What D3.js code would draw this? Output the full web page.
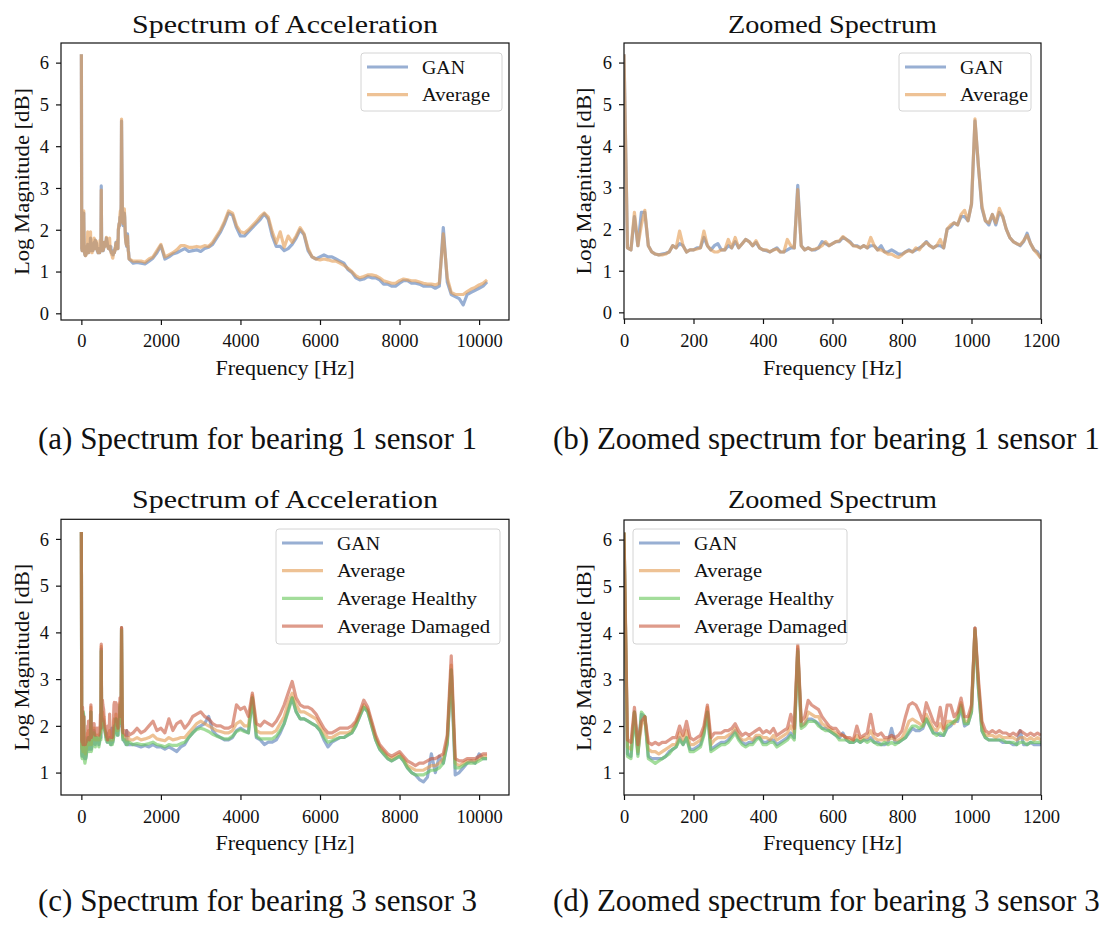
<!DOCTYPE html>
<html><head><meta charset="utf-8">
<script src="https://cdn.jsdelivr.net/npm/d3@7"></script>
<style>
body{margin:0;background:#fff}
svg{display:block}
text{font-family:"Liberation Serif","Times New Roman",serif;fill:#111}
</style>
</head><body>
<svg id="c" width="1106" height="934"></svg>
<script>
// ---------- categories / ticks ----------
const zoomFreq = d3.range(0, 1201, 10);      // Hz, zoomed spectra
const highFreq = d3.range(1300, 10201, 100); // Hz, rest of full spectra
const xTicksFull = [0, 2000, 4000, 6000, 8000, 10000];
const xTicksZoom = [0, 200, 400, 600, 800, 1000, 1200];
const yTicksB1 = [0, 1, 2, 3, 4, 5, 6];
const yTicksB3 = [1, 2, 3, 4, 5, 6];
const seriesNames = ["GAN", "Average", "Average Healthy", "Average Damaged"];
const captions = ["(a) Spectrum for bearing 1 sensor 1", "(b) Zoomed spectrum for bearing 1 sensor 1",
                  "(c) Spectrum for bearing 3 sensor 3", "(d) Zoomed spectrum for bearing 3 sensor 3"];

// ---------- bearing 1 sensor 1 : 0..1200 Hz ----------
const b1GanZoom = [6.2,1.55,1.5,2.3,1.6,2.4,2.4,1.6,1.45,1.4,
 1.38,1.4,1.42,1.45,1.6,1.55,1.65,1.6,1.45,1.5,
 1.5,1.55,1.55,1.8,1.6,1.5,1.6,1.65,1.5,1.5,
 1.6,1.55,1.7,1.55,1.65,1.75,1.7,1.6,1.68,1.55,
 1.5,1.48,1.45,1.5,1.55,1.45,1.45,1.5,1.55,1.55,
 3.05,1.6,1.5,1.55,1.5,1.5,1.55,1.7,1.65,1.6,
 1.65,1.7,1.7,1.8,1.75,1.7,1.6,1.6,1.55,1.6,
 1.55,1.6,1.6,1.5,1.6,1.45,1.45,1.5,1.45,1.4,
 1.4,1.45,1.5,1.45,1.5,1.55,1.6,1.7,1.6,1.55,
 1.6,1.6,1.55,2.0,2.05,2.15,2.1,2.3,2.3,2.2,
 2.6,4.6,3.5,2.5,2.2,2.1,2.35,2.1,2.4,2.3,
 2.0,1.8,1.7,1.65,1.6,1.7,1.9,1.65,1.5,1.45,1.3];
const b1AvgZoom = [6.2,1.55,1.5,2.4,1.6,2.1,2.45,1.6,1.45,1.4,
 1.38,1.38,1.4,1.45,1.6,1.55,1.95,1.6,1.45,1.5,
 1.5,1.52,1.55,1.95,1.6,1.5,1.45,1.45,1.5,1.5,
 1.75,1.55,1.8,1.55,1.65,1.75,1.7,1.6,1.72,1.55,
 1.5,1.5,1.45,1.5,1.52,1.45,1.45,1.75,1.6,1.55,
 2.95,1.6,1.5,1.55,1.5,1.52,1.55,1.6,1.7,1.6,
 1.65,1.7,1.72,1.82,1.75,1.68,1.6,1.58,1.55,1.6,
 1.55,1.8,1.6,1.5,1.5,1.45,1.4,1.4,1.35,1.32,
 1.38,1.45,1.48,1.45,1.55,1.5,1.62,1.68,1.6,1.55,
 1.6,1.75,1.55,2.0,2.1,2.15,2.1,2.35,2.45,2.2,
 2.6,4.65,3.5,2.55,2.2,2.15,2.35,2.15,2.5,2.3,
 2.0,1.8,1.7,1.65,1.62,1.72,1.85,1.65,1.5,1.4,1.3];
// ---------- bearing 1 sensor 1 : 1300..10200 Hz ----------
const b1GanHigh = [1.2,1.22,1.2,1.18,1.25,1.32,1.45,1.62,1.3,1.35,
 1.42,1.45,1.5,1.55,1.48,1.5,1.52,1.48,1.55,1.58,
 1.65,1.8,1.95,2.15,2.4,2.35,2.05,1.85,1.85,1.95,
 2.05,2.15,2.25,2.38,2.25,1.85,1.6,1.6,1.5,1.55,
 1.65,1.8,2.0,1.88,1.5,1.35,1.3,1.35,1.4,1.35,
 1.35,1.3,1.25,1.2,1.05,0.98,0.85,0.8,0.82,0.88,
 0.85,0.85,0.8,0.7,0.7,0.65,0.65,0.72,0.78,0.78,
 0.72,0.72,0.7,0.65,0.65,0.65,0.6,0.65,2.05,0.75,
 0.45,0.4,0.35,0.2,0.45,0.5,0.55,0.6,0.65,0.75];
const b1AvgHigh = [1.25,1.25,1.25,1.22,1.3,1.35,1.5,1.65,1.35,1.4,
 1.45,1.52,1.62,1.62,1.58,1.58,1.6,1.58,1.62,1.6,
 1.7,1.85,2.0,2.2,2.45,2.4,2.1,1.95,1.92,2.0,
 2.1,2.2,2.32,2.4,2.3,1.95,1.68,1.95,1.58,1.85,
 1.7,1.85,2.05,1.9,1.55,1.35,1.3,1.28,1.3,1.28,
 1.25,1.25,1.2,1.15,1.08,1.0,0.9,0.85,0.88,0.92,
 0.92,0.9,0.85,0.78,0.75,0.72,0.72,0.78,0.82,0.8,
 0.78,0.78,0.75,0.72,0.7,0.7,0.68,0.72,1.9,0.85,
 0.5,0.45,0.45,0.45,0.52,0.58,0.62,0.68,0.72,0.8];

// ---------- bearing 3 sensor 3 : 0..1200 Hz ----------
const b3GanZoom = [6.15,1.4,1.35,2.3,1.4,2.25,2.2,1.35,1.3,1.3,
 1.3,1.3,1.35,1.45,1.5,1.55,1.75,1.6,1.75,1.5,
 1.5,1.55,1.6,1.85,2.3,1.5,1.55,1.6,1.65,1.65,
 1.7,1.8,1.9,1.75,1.65,1.6,1.65,1.65,1.75,1.75,
 1.65,1.65,1.7,1.7,1.6,1.65,1.7,1.75,1.85,1.75,
 3.65,2.0,2.05,2.15,2.15,2.1,2.05,1.95,1.95,1.9,
 1.85,1.8,1.75,1.85,1.7,1.65,1.65,1.7,1.65,1.7,
 1.7,1.75,1.65,1.65,1.6,1.6,1.65,1.95,1.65,1.65,
 1.7,1.75,1.85,1.95,1.9,1.9,1.95,2.15,2.0,1.85,
 1.85,1.8,1.8,1.95,2.0,2.1,2.1,2.4,2.0,2.05,
 2.3,4.1,2.8,1.9,1.75,1.7,1.7,1.7,1.7,1.65,
 1.65,1.65,1.6,1.6,1.9,1.6,1.6,1.65,1.6,1.6,1.6];
const b3AvgZoom = [6.15,1.55,1.5,2.3,1.45,2.0,2.2,1.5,1.45,1.45,
 1.4,1.45,1.5,1.55,1.6,1.6,1.85,1.7,1.9,1.6,
 1.6,1.65,1.7,1.9,2.4,1.6,1.7,1.75,1.75,1.75,
 1.8,1.85,1.95,1.8,1.7,1.7,1.75,1.7,1.8,1.8,
 1.75,1.75,1.7,1.8,1.7,1.75,1.8,1.85,2.0,1.85,
 3.7,2.0,2.05,2.3,2.25,2.2,2.2,2.05,2.0,1.95,
 1.9,1.85,1.8,1.8,1.75,1.7,1.7,1.8,1.7,1.75,
 1.75,1.9,1.75,1.7,1.7,1.7,1.7,1.75,1.7,1.7,
 1.75,1.9,2.1,2.15,2.1,2.05,2.0,2.25,2.1,1.95,
 1.9,2.05,1.9,2.1,2.1,2.05,2.2,2.5,2.1,2.1,
 2.35,4.1,2.9,2.0,1.8,1.8,1.8,1.75,1.8,1.75,
 1.75,1.75,1.75,1.7,1.75,1.75,1.7,1.75,1.7,1.75,1.7];
const b3HealthyZoom = [6.15,1.35,1.3,2.3,1.35,2.3,2.2,1.3,1.25,1.2,
 1.25,1.3,1.35,1.4,1.5,1.55,1.7,1.6,1.75,1.45,
 1.45,1.5,1.55,1.8,2.3,1.45,1.5,1.55,1.6,1.6,
 1.65,1.75,1.85,1.7,1.6,1.55,1.6,1.6,1.7,1.75,
 1.6,1.6,1.65,1.65,1.55,1.6,1.65,1.7,1.8,1.7,
 3.6,1.95,2.0,2.1,2.1,2.1,2.0,1.95,1.9,1.9,
 1.85,1.8,1.7,1.7,1.7,1.65,1.65,1.7,1.65,1.7,
 1.65,1.7,1.65,1.6,1.6,1.65,1.6,1.65,1.6,1.65,
 1.7,1.75,1.9,2.0,2.0,1.95,2.0,2.15,2.0,1.85,
 1.8,1.85,1.8,2.0,2.05,2.1,2.15,2.45,2.05,2.05,
 2.3,4.05,2.8,1.9,1.75,1.7,1.7,1.7,1.7,1.7,
 1.65,1.65,1.65,1.6,1.65,1.65,1.6,1.65,1.65,1.65,1.65];
const b3DamagedZoom = [6.15,1.7,1.65,2.4,1.6,2.1,2.2,1.65,1.6,1.65,
 1.6,1.65,1.65,1.7,1.75,1.75,2.0,1.8,2.1,1.75,
 1.7,1.75,1.8,2.0,2.45,1.75,1.85,1.85,1.85,1.9,
 1.9,1.95,2.05,1.9,1.8,1.85,1.8,1.85,1.9,1.95,
 1.85,1.9,1.85,1.95,1.8,1.85,1.9,1.95,2.25,1.95,
 3.75,2.1,2.2,2.55,2.45,2.4,2.35,2.2,2.1,2.0,
 1.95,1.95,1.85,1.8,1.75,1.75,1.7,2.0,1.75,1.8,
 1.85,2.25,1.85,1.8,1.85,1.75,1.75,1.8,1.75,1.8,
 1.9,2.2,2.45,2.5,2.45,2.3,2.1,2.5,2.3,2.1,
 2.0,2.4,1.95,2.45,2.45,2.2,2.3,2.6,2.2,2.2,
 2.45,4.1,3.0,2.1,1.9,1.85,1.9,1.85,1.9,1.85,
 1.85,1.8,1.85,1.8,1.9,1.85,1.8,1.85,1.8,1.85,1.8];
// ---------- bearing 3 sensor 3 : 1300..10200 Hz ----------
const b3GanHigh = [1.6,1.58,1.55,1.58,1.55,1.6,1.55,1.55,1.5,1.55,
 1.5,1.45,1.55,1.6,1.75,1.85,1.95,2.0,2.05,2.2,
 1.9,1.8,1.75,1.7,1.7,1.75,1.9,1.95,1.9,1.85,
 2.6,1.75,1.7,1.6,1.65,1.65,1.7,1.85,2.05,2.35,
 2.6,2.3,2.15,2.15,2.1,2.05,2.0,1.9,1.7,1.55,
 1.65,1.7,1.75,1.75,1.8,1.85,2.0,2.2,2.4,2.3,
 2.0,1.7,1.5,1.4,1.3,1.25,1.3,1.35,1.25,1.1,
 1.0,0.95,0.85,0.8,0.9,1.4,1.0,1.35,1.2,1.6,
 3.2,0.95,1.0,1.1,1.2,1.25,1.2,1.4,1.3,1.3];
const b3AvgHigh = [1.7,1.75,1.7,1.72,1.75,1.8,1.72,1.7,1.68,1.75,
 1.7,1.72,1.75,1.75,1.85,1.95,2.05,2.1,2.05,2.0,
 1.95,1.9,1.88,1.85,1.85,1.9,2.05,2.1,2.0,2.0,
 2.65,1.9,1.85,1.85,1.85,1.85,1.9,2.05,2.2,2.5,
 2.7,2.45,2.3,2.3,2.25,2.2,2.15,2.0,1.85,1.75,
 1.75,1.8,1.85,1.85,1.85,1.9,2.05,2.25,2.45,2.35,
 2.05,1.75,1.55,1.45,1.35,1.3,1.35,1.4,1.3,1.15,
 1.1,1.05,1.05,1.05,1.1,1.15,1.15,1.2,1.3,1.7,
 3.3,1.2,1.15,1.2,1.25,1.25,1.25,1.3,1.35,1.35];
const b3HealthyHigh = [1.6,1.62,1.6,1.6,1.62,1.65,1.6,1.58,1.55,1.6,
 1.58,1.58,1.62,1.65,1.75,1.85,1.92,1.95,1.92,1.88,
 1.82,1.78,1.75,1.72,1.72,1.78,1.88,1.92,1.88,1.85,
 2.6,1.78,1.72,1.72,1.72,1.72,1.78,1.9,2.05,2.3,
 2.6,2.3,2.15,2.15,2.1,2.05,2.0,1.9,1.75,1.65,
 1.68,1.72,1.75,1.75,1.8,1.85,2.0,2.2,2.4,2.3,
 2.0,1.7,1.5,1.4,1.3,1.25,1.3,1.35,1.25,1.1,
 1.0,0.95,0.95,0.95,1.0,1.05,1.05,1.1,1.2,1.65,
 3.2,1.1,1.1,1.15,1.2,1.2,1.2,1.25,1.3,1.3];
const b3DamagedHigh = [1.85,1.95,1.85,1.9,2.0,2.1,1.9,1.95,1.85,2.15,
 1.9,2.05,2.1,1.95,2.05,2.2,2.25,2.3,2.2,2.15,
 2.05,2.0,2.0,1.95,1.95,2.0,2.45,2.35,2.4,2.2,
 2.7,2.05,2.0,2.1,2.05,2.0,2.1,2.25,2.45,2.7,
 2.95,2.6,2.45,2.4,2.4,2.35,2.25,2.1,1.95,1.85,
 1.85,1.9,1.95,1.95,1.95,2.0,2.1,2.3,2.55,2.4,
 2.1,1.8,1.6,1.5,1.4,1.35,1.4,1.45,1.35,1.25,
 1.2,1.15,1.2,1.2,1.25,1.3,1.3,1.35,1.4,1.8,
 3.5,1.3,1.25,1.25,1.3,1.3,1.3,1.35,1.4,1.4];

// ---------- styling ----------
const colors = ["#5479B6", "#E39A4F", "#66C659", "#C8583E"];
const svg = d3.select("#c");
const fullFreq = zoomFreq.concat(highFreq);

function fit(sel, w) {
  sel.attr("textLength", w).attr("lengthAdjust", "spacingAndGlyphs");
}

function drawPanel(p) {
  const g = svg.append("g");
  const x = d3.scaleLinear().domain(p.xDomain).range([p.left, p.right]);
  const y = d3.scaleLinear().domain(p.yDomain).range([p.bottom, p.top]);
  const clipId = "clip" + p.id;
  svg.append("clipPath").attr("id", clipId).append("rect")
    .attr("x", p.left).attr("y", p.top).attr("width", p.right - p.left).attr("height", p.bottom - p.top);

  const line = d3.line().x(d => x(d[0])).y(d => y(d[1]));
  const lines = g.append("g").attr("clip-path", `url(#${clipId})`);
  p.series.forEach(s => {
    lines.append("path")
      .datum(s.freq.map((f, i) => [f, s.values[i]]))
      .attr("d", line)
      .attr("fill", "none")
      .attr("stroke", colors[s.c])
      .attr("stroke-opacity", 0.6)
      .attr("stroke-width", 3.2)
      .attr("stroke-linejoin", "round");
  });

  // frame
  g.append("rect").attr("x", p.left).attr("y", p.top)
    .attr("width", p.right - p.left).attr("height", p.bottom - p.top)
    .attr("fill", "none").attr("stroke", "#111").attr("stroke-width", 1.2);

  // x axis
  const xa = g.append("g").attr("transform", `translate(0,${p.bottom})`)
    .call(d3.axisBottom(x).tickValues(p.xTicks).tickSize(5).tickFormat(d3.format("d")));
  xa.select(".domain").remove();
  xa.selectAll(".tick line").attr("stroke", "#111").attr("stroke-width", 1.2);
  xa.selectAll(".tick text").attr("y", p.xTickBase).attr("dy", null)
    .attr("font-size", 18.5).attr("fill", "#111")
    .style("font-family", '"Liberation Serif", serif');

  // y axis
  const ya = g.append("g").attr("transform", `translate(${p.left},0)`)
    .call(d3.axisLeft(y).tickValues(p.yTicks).tickSize(5).tickPadding(7).tickFormat(d3.format("d")));
  ya.select(".domain").remove();
  ya.selectAll(".tick line").attr("stroke", "#111").attr("stroke-width", 1.2);
  ya.selectAll(".tick text").attr("dy", "0.34em")
    .attr("font-size", 18.5).attr("fill", "#111")
    .style("font-family", '"Liberation Serif", serif');

  // labels
  const cx = (p.left + p.right) / 2, cy = (p.top + p.bottom) / 2;
  g.append("text").attr("x", cx).attr("y", p.titleBase).attr("text-anchor", "middle")
    .attr("font-size", 26).text(p.title).call(fit, p.titleW);
  g.append("text").attr("x", cx).attr("y", p.bottom + p.xLabelOff).attr("text-anchor", "middle")
    .attr("font-size", 20).text("Frequency [Hz]").call(fit, 139);
  g.append("text").attr("transform", `translate(${p.yLabelX},${cy}) rotate(-90)`)
    .attr("text-anchor", "middle").attr("font-size", 20).text("Log Magnitude [dB]").call(fit, 187);

  // legend
  const L = p.legend;
  g.append("rect").attr("x", L.x).attr("y", L.y).attr("width", L.w).attr("height", L.h)
    .attr("rx", 3).attr("fill", "#fff").attr("fill-opacity", 0.8)
    .attr("stroke", "#d4d4d4").attr("stroke-width", 1);
  p.series.forEach((s, i) => {
    const ry = L.y + 14 + i * 27.7;
    g.append("line").attr("x1", L.x + 6).attr("x2", L.x + 47).attr("y1", ry).attr("y2", ry)
      .attr("stroke", colors[s.c]).attr("stroke-opacity", 0.6).attr("stroke-width", 3.2);
    g.append("text").attr("x", L.x + 61).attr("y", ry + 6.5).attr("font-size", 18)
      .text(seriesNames[s.c]).call(fit, L.tw[i]);
  });

  // caption
  svg.append("text").attr("x", p.capX).attr("y", p.capBase).attr("font-size", 31)
    .style("font-family", '"Liberation Serif","Times New Roman",serif').text(p.caption);
}

const b1Series = [
  { c: 0, freq: fullFreq, values: b1GanZoom.concat(b1GanHigh) },
  { c: 1, freq: fullFreq, values: b1AvgZoom.concat(b1AvgHigh) }
];
const b1SeriesZoom = [
  { c: 0, freq: zoomFreq, values: b1GanZoom },
  { c: 1, freq: zoomFreq, values: b1AvgZoom }
];
const b3Series = [
  { c: 0, freq: fullFreq, values: b3GanZoom.concat(b3GanHigh) },
  { c: 1, freq: fullFreq, values: b3AvgZoom.concat(b3AvgHigh) },
  { c: 2, freq: fullFreq, values: b3HealthyZoom.concat(b3HealthyHigh) },
  { c: 3, freq: fullFreq, values: b3DamagedZoom.concat(b3DamagedHigh) }
];
const b3SeriesZoom = [
  { c: 0, freq: zoomFreq, values: b3GanZoom },
  { c: 1, freq: zoomFreq, values: b3AvgZoom },
  { c: 2, freq: zoomFreq, values: b3HealthyZoom },
  { c: 3, freq: zoomFreq, values: b3DamagedZoom }
];

drawPanel({ id: "a", left: 61, right: 509, top: 43, bottom: 320,
  xDomain: [-512, 10752], yDomain: [-0.16, 6.47], xTicks: xTicksFull, yTicks: yTicksB1,
  series: b1Series, title: "Spectrum of Acceleration", titleW: 306, titleBase: 33,
  xTickBase: 27, xLabelOff: 55, yLabelX: 29,
  legend: { x: 361, y: 53, w: 141, h: 58, tw: [43, 68] },
  caption: captions[0], capX: 38, capBase: 449 });

drawPanel({ id: "b", left: 624, right: 1041, top: 43, bottom: 319,
  xDomain: [0, 1200], yDomain: [-0.16, 6.47], xTicks: xTicksZoom, yTicks: yTicksB1,
  series: b1SeriesZoom, title: "Zoomed Spectrum", titleW: 209, titleBase: 33,
  xTickBase: 28, xLabelOff: 56, yLabelX: 591,
  legend: { x: 899, y: 53, w: 132, h: 58, tw: [43, 68] },
  caption: captions[1], capX: 553, capBase: 449 });

drawPanel({ id: "c", left: 61, right: 509, top: 519.3, bottom: 795,
  xDomain: [-512, 10752], yDomain: [0.52, 6.42], xTicks: xTicksFull, yTicks: yTicksB3,
  series: b3Series, title: "Spectrum of Acceleration", titleW: 306, titleBase: 508,
  xTickBase: 28, xLabelOff: 55, yLabelX: 29,
  legend: { x: 276, y: 529, w: 224, h: 115, tw: [43, 68, 140, 153] },
  caption: captions[2], capX: 38, capBase: 911 });

drawPanel({ id: "d", left: 624, right: 1041, top: 520, bottom: 795,
  xDomain: [0, 1200], yDomain: [0.52, 6.42], xTicks: xTicksZoom, yTicks: yTicksB3,
  series: b3SeriesZoom, title: "Zoomed Spectrum", titleW: 209, titleBase: 508,
  xTickBase: 28, xLabelOff: 55, yLabelX: 591,
  legend: { x: 633, y: 529, w: 214, h: 115, tw: [43, 68, 140, 153] },
  caption: captions[3], capX: 553, capBase: 911 });
</script>
</body></html>
